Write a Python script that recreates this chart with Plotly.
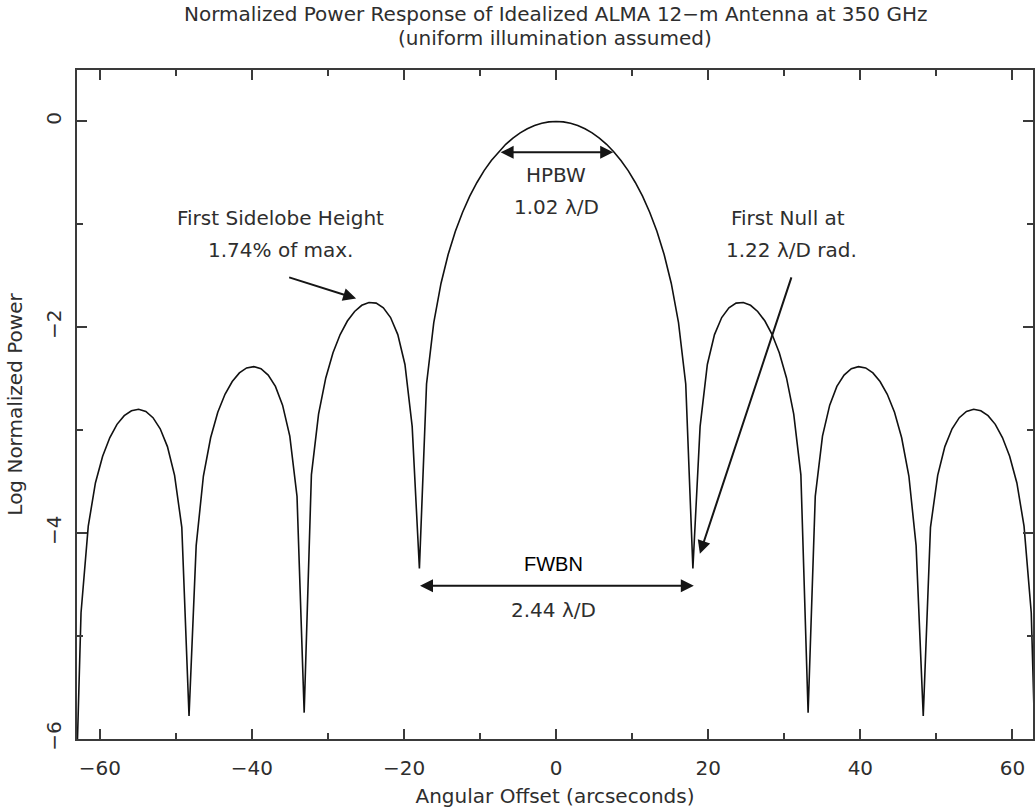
import plotly.graph_objects as go

# Angular offset (arcsec) and log10 of normalized power for the sampled beam pattern
offset_arcsec = [
    -63.05, -62.47, -61.52, -60.58, -59.63, -58.68, -57.74, -56.79, -55.84, -54.90,
    -53.95, -53.01, -52.06, -51.11, -50.17, -49.22, -48.27, -47.33, -46.38, -45.43,
    -44.49, -43.54, -42.59, -41.65, -40.70, -39.75, -38.81, -37.86, -36.91, -35.97,
    -35.02, -34.07, -33.13, -32.18, -31.24, -30.29, -29.34, -28.40, -27.45, -26.50,
    -25.56, -24.61, -23.66, -22.72, -21.77, -20.82, -19.88, -18.93, -17.98, -17.04,
    -16.09, -15.14, -14.20, -13.25, -12.30, -11.36, -10.41, -9.47, -8.52, -7.57,
    -6.63, -5.68, -4.73, -3.79, -2.84, -1.89, -0.95,
    0.00,
    0.95, 1.89, 2.84, 3.79, 4.73, 5.68, 6.63, 7.57, 8.52, 9.47,
    10.41, 11.36, 12.30, 13.25, 14.20, 15.14, 16.09, 17.04, 17.98, 18.93,
    19.88, 20.82, 21.77, 22.72, 23.66, 24.61, 25.56, 26.50, 27.45, 28.40,
    29.34, 30.29, 31.24, 32.18, 33.13, 34.07, 35.02, 35.97, 36.91, 37.86,
    38.81, 39.75, 40.70, 41.65, 42.59, 43.54, 44.49, 45.43, 46.38, 47.33,
    48.27, 49.22, 50.17, 51.11, 52.06, 53.01, 53.95, 54.90, 55.84, 56.79,
    57.74, 58.68, 59.63, 60.58, 61.52, 62.47, 63.05,
]

log_power = [
    -6.300, -4.773, -3.932, -3.512, -3.252, -3.071, -2.943, -2.858, -2.811, -2.796,
    -2.817, -2.878, -2.986, -3.159, -3.438, -3.943, -5.776, -4.121, -3.445, -3.073,
    -2.826, -2.651, -2.527, -2.443, -2.395, -2.382, -2.402, -2.464, -2.574, -2.756,
    -3.057, -3.643, -5.744, -3.434, -2.843, -2.492, -2.248, -2.070, -1.939, -1.846,
    -1.786, -1.759, -1.765, -1.811, -1.905, -2.071, -2.361, -2.963, -4.343, -2.551,
    -1.954, -1.574, -1.292, -1.067, -0.882, -0.726, -0.593, -0.478, -0.379, -0.295,
    -0.222, -0.161, -0.111, -0.071, -0.039, -0.018, -0.004,
    0.000,
    -0.004, -0.018, -0.039, -0.071, -0.111, -0.161, -0.222, -0.295, -0.379, -0.478,
    -0.593, -0.726, -0.882, -1.067, -1.292, -1.574, -1.954, -2.551, -4.343, -2.963,
    -2.361, -2.071, -1.905, -1.811, -1.765, -1.759, -1.786, -1.846, -1.939, -2.070,
    -2.248, -2.492, -2.843, -3.434, -5.744, -3.643, -3.057, -2.756, -2.574, -2.464,
    -2.402, -2.382, -2.395, -2.443, -2.527, -2.651, -2.826, -3.073, -3.445, -4.121,
    -5.776, -3.943, -3.438, -3.159, -2.986, -2.878, -2.817, -2.796, -2.811, -2.858,
    -2.943, -3.071, -3.252, -3.512, -3.932, -4.773, -6.300,
]

x_ticks = [-60, -40, -20, 0, 20, 40, 60]
y_ticks = [0, -2, -4, -6]

# Beam-width markers (arcsec, log power)
hpbw_half = 7.5
hpbw_level = -0.30
fwbn_half = 18.1
fwbn_level = -4.51

TEXT = "#2e2e2e"
FONT = "DejaVu Sans"
SIZE = 20

fig = go.Figure()
fig.add_trace(go.Scatter(
    x=offset_arcsec, y=log_power, mode="lines",
    line=dict(color="#111111", width=1.6), showlegend=False,
    hoverinfo="skip",
))

def label(x, y, text, size=SIZE, color=TEXT, family=FONT):
    fig.add_annotation(x=x, y=y, xref="x", yref="y", text=text, showarrow=False,
                       font=dict(family=family, size=size, color=color),
                       xanchor="center", yanchor="middle")

def arrow(x0, y0, x1, y1, both=False):
    fig.add_annotation(x=x1, y=y1, ax=x0, ay=y0, xref="x", yref="y",
                       axref="x", ayref="y", text="", showarrow=True,
                       arrowhead=2, arrowsize=1.3, arrowwidth=2,
                       arrowcolor="#151515",
                       arrowside="end+start" if both else "end")

# HPBW
arrow(-hpbw_half, hpbw_level, hpbw_half, hpbw_level, both=True)
label(0, -0.52, "HPBW")
label(0, -0.83, "1.02 λ/D")

# First sidelobe
label(-36.2, -0.94, "First Sidelobe Height")
label(-36.2, -1.25, "1.74% of max.")
arrow(-35.3, -1.51, -26.3, -1.72)

# First null
label(30.5, -0.94, "First Null at")
label(30.9, -1.25, "1.22 λ/D rad.")
arrow(31.0, -1.50, 18.9, -4.20)

# FWBN
arrow(-fwbn_half, fwbn_level, fwbn_half, fwbn_level, both=True)
label(-0.3, -4.30, "FWBN", size=20, color="#000000", family="Liberation Sans")
label(-0.3, -4.75, "2.44 λ/D")

# Two-line title
fig.add_annotation(x=0.5, y=1.083, xref="paper", yref="paper", showarrow=False,
                   text="Normalized Power Response of Idealized ALMA 12−m Antenna at 350 GHz",
                   font=dict(family=FONT, size=SIZE, color=TEXT), xanchor="center", yanchor="middle")
fig.add_annotation(x=0.5, y=1.048, xref="paper", yref="paper", showarrow=False,
                   text="(uniform illumination assumed)",
                   font=dict(family=FONT, size=SIZE, color=TEXT), xanchor="center", yanchor="middle")

axis_common = dict(
    showline=True, linecolor="#3a3a3a", linewidth=1.5, mirror="ticks",
    ticks="inside", tickcolor="#3a3a3a", tickwidth=1.5, ticklen=10,
    showgrid=False, zeroline=False,
    tickfont=dict(family=FONT, size=SIZE, color=TEXT),
)

fig.update_xaxes(
    range=[-63.0, 62.7], tickvals=x_ticks, ticktext=[f"{v:d}".replace("-", "−") for v in x_ticks],
    minor=dict(dtick=10, tick0=0, ticks="inside", ticklen=6, tickcolor="#3a3a3a", tickwidth=1.5),
    ticklabelstandoff=10,
    title=dict(text="Angular Offset (arcseconds)", font=dict(family=FONT, size=SIZE, color=TEXT), standoff=10),
    **axis_common,
)
fig.update_yaxes(
    range=[-6.0, 0.5], tickvals=y_ticks, ticktext=[f"{v:d}".replace("-", "−") for v in y_ticks],
    tickangle=-90,
    minor=dict(dtick=1, tick0=0, ticks="inside", ticklen=6, tickcolor="#3a3a3a", tickwidth=1.5),
    ticklabelstandoff=6,
    title=dict(text="Log Normalized Power", font=dict(family=FONT, size=SIZE, color=TEXT), standoff=14),
    **axis_common,
)

fig.update_layout(
    width=1036, height=810,
    margin=dict(l=77, r=1, t=70, b=71),
    plot_bgcolor="white", paper_bgcolor="white",
)

fig.write_html("out.html")
